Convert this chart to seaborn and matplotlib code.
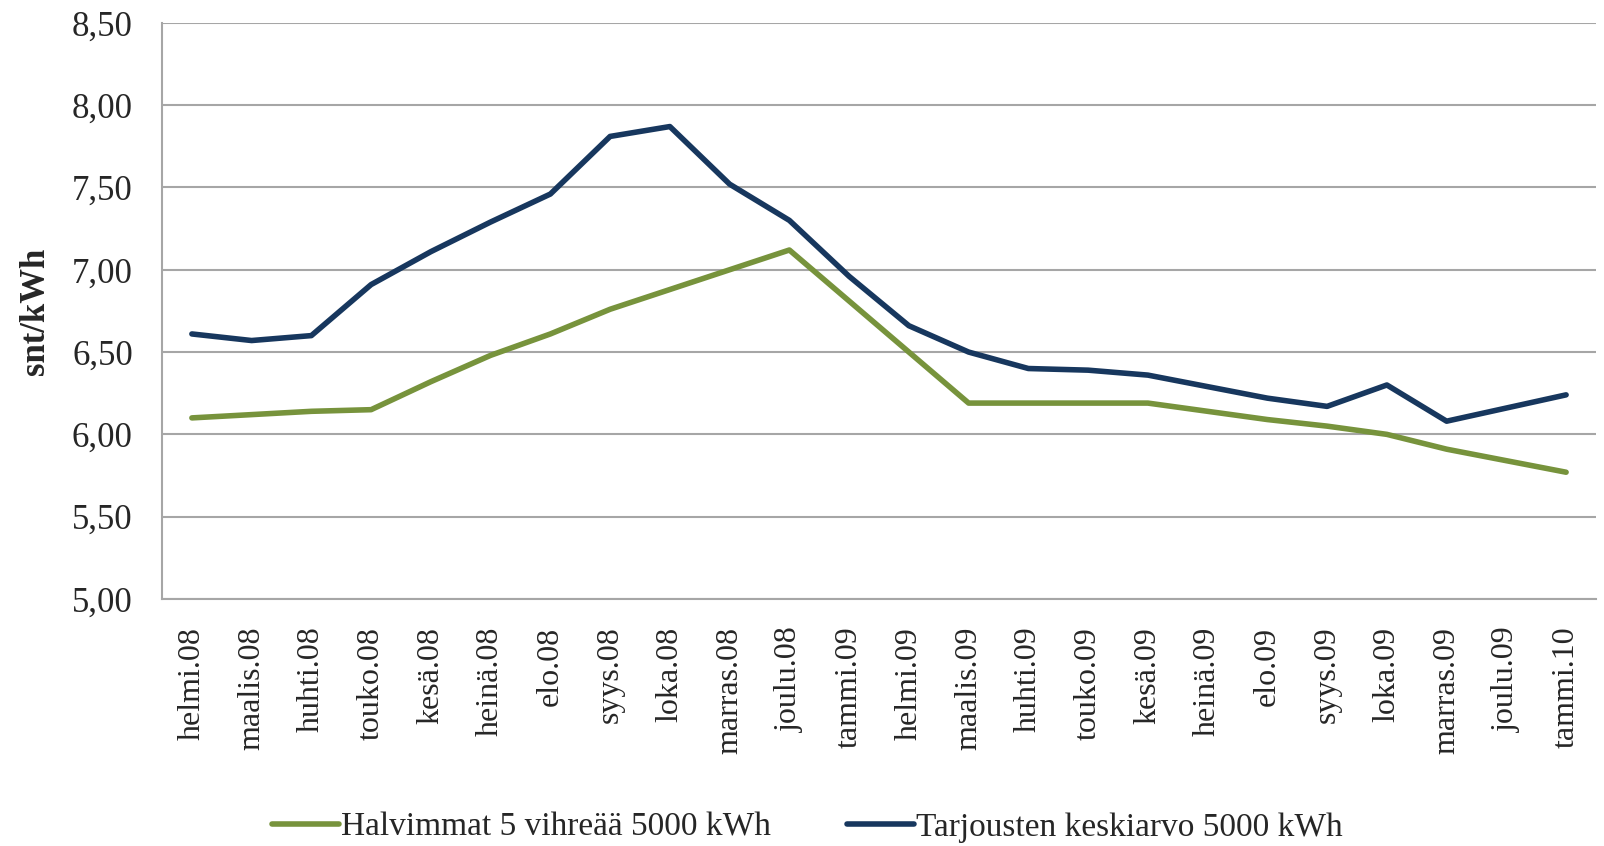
import pandas as pd
import matplotlib
matplotlib.use("Agg")
import matplotlib.pyplot as plt
import seaborn as sns

# kuukaudet (x-akseli)
kuukaudet = ["helmi.08", "maalis.08", "huhti.08", "touko.08", "kesä.08", "heinä.08",
             "elo.08", "syys.08", "loka.08", "marras.08", "joulu.08", "tammi.09",
             "helmi.09", "maalis.09", "huhti.09", "touko.09", "kesä.09", "heinä.09",
             "elo.09", "syys.09", "loka.09", "marras.09", "joulu.09", "tammi.10"]

# sarjat, snt/kWh
halvimmat = [6.10, 6.12, 6.14, 6.15, 6.32, 6.48, 6.61, 6.76, 6.88, 7.00, 7.12, 6.81,
             6.50, 6.19, 6.19, 6.19, 6.19, 6.14, 6.09, 6.05, 6.00, 5.91, 5.84, 5.77]
keskiarvo = [6.61, 6.57, 6.60, 6.91, 7.11, 7.29, 7.46, 7.81, 7.87, 7.52, 7.30, 6.96,
             6.66, 6.50, 6.40, 6.39, 6.36, 6.29, 6.22, 6.17, 6.30, 6.08, 6.16, 6.24]

sarja1 = "Halvimmat 5 vihreää 5000 kWh"
sarja2 = "Tarjousten keskiarvo 5000 kWh"

df = pd.DataFrame({
    "kk": list(range(len(kuukaudet))) * 2,
    "hinta": halvimmat + keskiarvo,
    "sarja": [sarja1] * len(kuukaudet) + [sarja2] * len(kuukaudet),
})

sns.set_style("white")
plt.rcParams["font.family"] = ["Liberation Serif", "DejaVu Serif"]

fig = plt.figure(figsize=(16.04, 8.46), dpi=100)
ax = fig.add_axes([0.101, 0.292, 0.894, 0.681])

sns.lineplot(data=df, x="kk", y="hinta", hue="sarja",
             palette={sarja1: "#77933C", sarja2: "#17375E"},
             linewidth=4.0, ax=ax)

ax.set_xlim(-0.5, len(kuukaudet) - 0.5)
ax.set_ylim(5.0, 8.5)
ax.set_yticks([5.0, 5.5, 6.0, 6.5, 7.0, 7.5, 8.0, 8.5])
ax.set_yticklabels([f"{v:.2f}".replace(".", ",") for v in ax.get_yticks()], fontsize=25)
ax.set_xticks(range(len(kuukaudet)))
ax.set_xticklabels(kuukaudet, rotation=90, fontsize=23)
ax.tick_params(axis="y", length=0, pad=21)
ax.tick_params(axis="x", length=0, pad=20)
ax.grid(axis="y", color="#A6A6A6", linewidth=1.5)
ax.set_axisbelow(True)

for s in ["top", "right"]:
    ax.spines[s].set_visible(False)
for s in ["left", "bottom"]:
    ax.spines[s].set_color("#A6A6A6")
    ax.spines[s].set_linewidth(1.5)

ax.set_xlabel("")
ax.set_ylabel("snt/kWh", fontsize=25, fontweight="bold", labelpad=14)

ax.legend(loc="lower center", bbox_to_anchor=(0.45, -0.475), ncol=2, frameon=False,
          fontsize=24, handlelength=2.0, handletextpad=0.05, columnspacing=2.3)

fig.savefig("out.png", dpi=100)
